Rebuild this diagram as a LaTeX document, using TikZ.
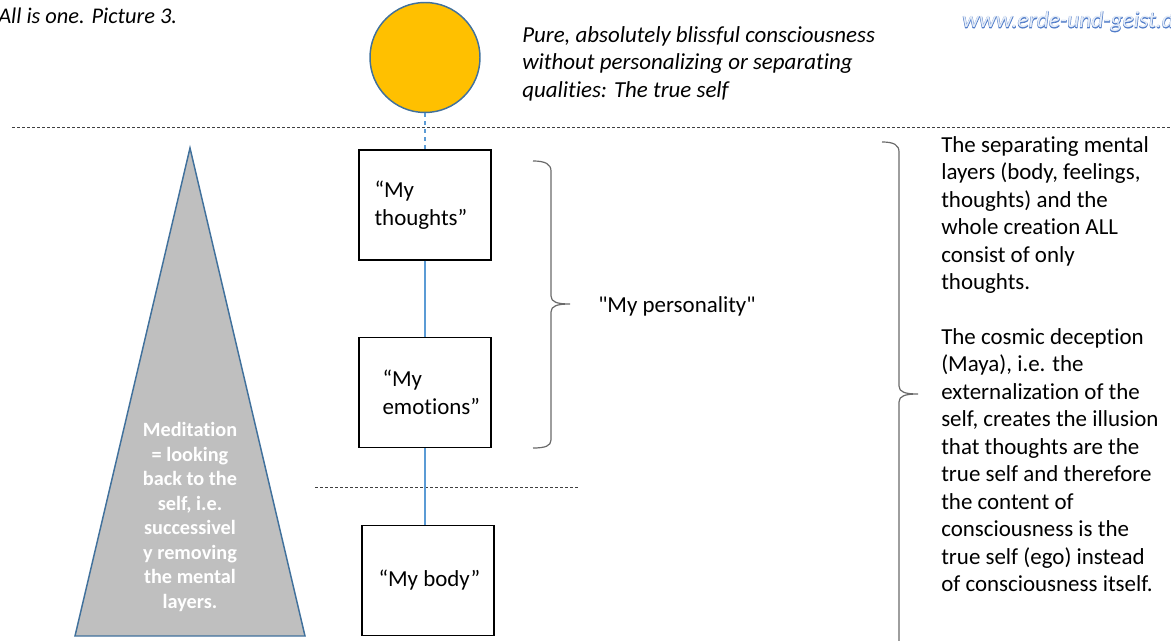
\documentclass[tikz,border=0pt]{standalone}
\usepackage{fontspec}
\setmainfont{Carlito}[Ligatures={TeXOff,CommonOff}]
\usetikzlibrary{positioning}

\definecolor{sunfill}{HTML}{FFC000}
\definecolor{shapeblue}{HTML}{41719C}
\definecolor{linkblue}{HTML}{5B9BD5}
\definecolor{pyrgray}{HTML}{BFBFBF}
\definecolor{bracegray}{HTML}{6A6A6A}
\definecolor{urlblue}{HTML}{4F7BC8}
\definecolor{urlfill}{HTML}{E4ECF8}

\begin{document}
\begin{tikzpicture}[x=0.75pt, y=-0.75pt,
  every node/.style={font=\fontsize{17.2}{20.6}\selectfont},
  layer/.style={draw, line width=1.1pt, minimum width=99pt, minimum height=82.5pt, inner sep=0pt},
  layertext/.style={inner sep=0pt, align=left, anchor=west},
  link/.style={draw=linkblue, line width=0.8pt},
  divider/.style={draw=black!75, line width=0.6pt, dash pattern=on 2.25pt off 1.5pt},
  curly/.style={draw=bracegray, line width=0.9pt},
  note/.style={inner sep=0pt, align=left, anchor=north west}]

\useasboundingbox (0,0) rectangle (1171,641);

% header
\node[inner sep=0pt, anchor=base west, font=\fontsize{16.8}{20.6}\selectfont\itshape] (title) at (-2,24) {All is one. Picture 3.};
\node[inner sep=0pt, anchor=base west, text=urlblue, font=\fontsize{17.6}{20}\selectfont\itshape\addfontfeature{FakeBold=3}] (url) at (962,28) {www.erde-und-geist.de};
\node[inner sep=0pt, anchor=base west, text=urlfill, font=\fontsize{17.6}{20}\selectfont\itshape] (urlin) at (962,28) {www.erde-und-geist.de};

% the true self
\node[circle, draw=shapeblue, fill=sunfill, line width=1.1pt, minimum size=82.5pt, inner sep=0pt] (sun) at (425,57.5) {};
\node[note, font=\fontsize{17.2}{20.6}\selectfont\itshape] (suntext) at (522,26) {Pure, absolutely blissful consciousness\\without personalizing or separating\\qualities: The true self};

\draw[divider] (12,127) -- (1171,127);
\draw[divider] (315,487) -- (578,487);

% meditation
\draw[draw=shapeblue, fill=pyrgray, line width=1.1pt] (190,148) -- (305,636) -- (75,636) -- cycle;
\node[inner sep=0pt, align=center, text=white, font=\fontsize{15.2}{18.4}\selectfont\bfseries] (medtext) at (190,517)
  {Meditation\\= looking\\back to the\\self, i.e.\\successivel\\y removing\\the mental\\layers.};

% layers
\node[layer] (thoughts) at (425,205) {};
\node[layer] (emotions) at (425,392.5) {};
\node[layer] (body) at (428,580.5) {};
\node[layertext, right=12pt of thoughts.west] (thoughtslbl) {“My\\thoughts”};
\node[layertext, right=18pt of emotions.west] (emotionslbl) {“My\\emotions”};
\node[layertext, right=12.75pt of body.west] (bodylbl) {“My body”};

\draw[link, dashed] (sun) -- (thoughts);
\draw[link] (thoughts) -- (emotions);
\draw[link] (emotions.south) -- (emotions.south |- body.north);

% braces
\draw[curly] (533,161) .. controls (545,161) and (551,164) .. (551,171) -- (551,296)
  .. controls (551,302) and (557,304) .. (570,304) .. controls (557,304) and (551,306) .. (551,312)
  -- (551,440) .. controls (551,446) and (545,448) .. (533,448);
\coordinate (ptip) at (570,306);
\node[inner sep=0pt, right=21pt of ptip] (personality) {"My personality"};

\draw[curly] (882,142) .. controls (894,142) and (899,145) .. (899,152) -- (899,386)
  .. controls (899,392) and (905,394) .. (918,394) .. controls (905,394) and (899,396) .. (899,402)
  -- (899,660);
\node[note] (explain) at (941,136) {The separating mental\\layers (body, feelings,\\thoughts) and the\\whole creation ALL\\consist of only\\thoughts.\\[20.6pt]The cosmic deception\\(Maya), i.e. the\\externalization of the\\self, creates the illusion\\that thoughts are the\\true self and therefore\\the content of\\consciousness is the\\true self (ego) instead\\of consciousness itself.};

\end{tikzpicture}
\end{document}
